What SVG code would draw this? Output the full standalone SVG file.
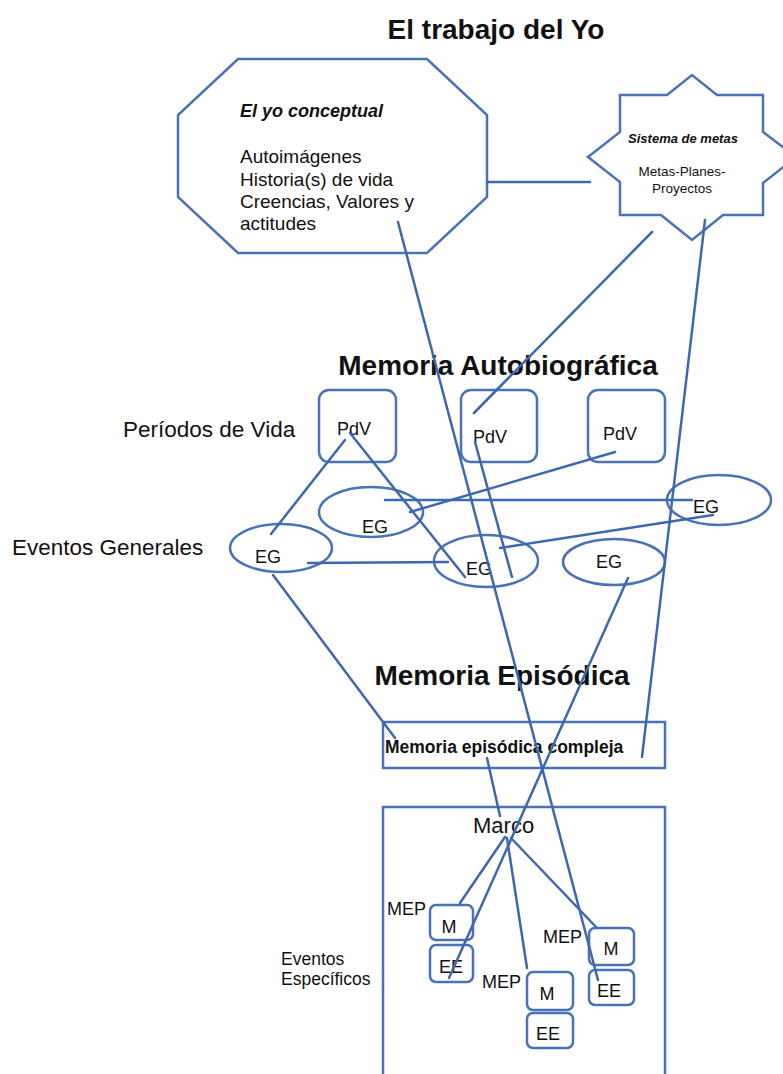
<svg xmlns="http://www.w3.org/2000/svg" width="783" height="1074" viewBox="0 0 783 1074">
<style>
text{font-family:"Liberation Sans",Arial,sans-serif;fill:#111}
.h{font-weight:bold;font-size:28px;text-anchor:middle}
.shape{fill:#fff;stroke:#4a72b8;stroke-width:2.5}
.box{fill:none;stroke:#4a72b8;stroke-width:2.5}
.lbl{font-size:22.5px}
.n{font-size:18px}
.c{text-anchor:middle}
#connectors line{stroke:#3d68b0;stroke-width:2.5;stroke-linecap:round}
</style>
<rect width="783" height="1074" fill="#fff"/>
<text class="h" x="496" y="39">El trabajo del Yo</text>
<text class="h" x="498" y="375">Memoria Autobiográfica</text>
<text class="h" x="502" y="685">Memoria Episódica</text>
<text class="lbl" x="123" y="437">Períodos de Vida</text>
<text class="lbl" x="12" y="555">Eventos Generales</text>
<text class="n" x="281" y="965" style="font-size:17.5px">Eventos</text>
<text class="n" x="281" y="985" style="font-size:17.5px">Específicos</text>

<g id="yo-conceptual">
<polygon class="shape" points="238,59 427,59 487,115 487,197 427,253 238,253 178,197 178,115"/>
<text x="240" y="117" style="font-size:18px;font-weight:bold;font-style:italic">El yo conceptual</text>
<text x="240" y="163" style="font-size:19px">Autoimágenes</text>
<text x="240" y="186" style="font-size:19px">Historia(s) de vida</text>
<text x="240" y="208" style="font-size:19px">Creencias, Valores y</text>
<text x="240" y="230" style="font-size:19px">actitudes</text>
</g>
<g id="sistema-metas">
<polygon class="shape" points="620,95 667,95 692,75 717,95 763,95 763,132 796,157 763,183 763,215 723,215 692,240 661,215 620,215 620,182 588,157 620,132"/>
<text x="683" y="143" class="c" style="font-size:13px;font-weight:bold;font-style:italic">Sistema de metas</text>
<text x="682" y="176" class="c" style="font-size:13.5px">Metas-Planes-</text>
<text x="682" y="193" class="c" style="font-size:13.5px">Proyectos</text>
</g>

<g id="pdv1"><rect class="box" x="319" y="390" width="77" height="72" rx="10"/><text class="n" x="337" y="435">PdV</text></g>
<g id="pdv2"><rect class="box" x="461" y="390" width="76" height="72" rx="10"/><text class="n" x="473" y="443">PdV</text></g>
<g id="pdv3"><rect class="box" x="588" y="390" width="77" height="72" rx="10"/><text class="n" x="603" y="440">PdV</text></g>

<g id="eg-left"><ellipse class="box" cx="281" cy="548" rx="51" ry="24"/><text class="n" x="255" y="563">EG</text></g>
<g id="eg-upper"><ellipse class="box" cx="371" cy="512" rx="52" ry="25"/><text class="n" x="362" y="533">EG</text></g>
<g id="eg-center"><ellipse class="box" cx="486" cy="561" rx="52" ry="26"/><text class="n" x="466" y="575">EG</text></g>
<g id="eg-right-low"><ellipse class="box" cx="614" cy="562" rx="51" ry="23"/><text class="n" x="596" y="568">EG</text></g>
<g id="eg-right-top"><ellipse class="box" cx="719" cy="500" rx="52" ry="25"/><text class="n" x="693" y="513">EG</text></g>

<g id="mem-compleja"><rect class="box" x="383" y="722" width="282" height="46"/><text x="385" y="753" style="font-size:17.5px;font-weight:bold">Memoria episódica compleja</text></g>
<g id="marco"><rect class="box" x="383" y="807" width="282" height="280"/><text x="473" y="833" style="font-size:22px">Marco</text></g>

<g id="mep1">
<text class="n" x="387" y="915">MEP</text>
<rect class="box" x="430" y="905" width="43" height="35" rx="6"/><text class="n c" x="449" y="933">M</text>
<rect class="box" x="430" y="945" width="43" height="37" rx="6"/><text class="n c" x="451" y="973">EE</text>
</g>
<g id="mep2">
<text class="n" x="482" y="988">MEP</text>
<rect class="box" x="527" y="972" width="46" height="38" rx="6"/><text class="n c" x="547" y="1000">M</text>
<rect class="box" x="527" y="1013" width="46" height="35" rx="6"/><text class="n c" x="548" y="1040">EE</text>
</g>
<g id="mep3">
<text class="n" x="543" y="943">MEP</text>
<rect class="box" x="589" y="928" width="45" height="37" rx="6"/><text class="n c" x="611" y="955">M</text>
<rect class="box" x="589" y="970" width="45" height="35" rx="6"/><text class="n c" x="609" y="997">EE</text>
</g>

<g id="connectors">
<line x1="487" y1="182" x2="590" y2="182"/>
<line x1="398" y1="222" x2="598" y2="980"/>
<line x1="652" y1="232" x2="474" y2="413"/>
<line x1="705" y1="220" x2="642" y2="757"/>
<line x1="345" y1="440" x2="271" y2="534"/>
<line x1="350" y1="433" x2="465" y2="577"/>
<line x1="475" y1="442" x2="512" y2="577"/>
<line x1="615" y1="452" x2="410" y2="512"/>
<line x1="385" y1="500" x2="692" y2="500"/>
<line x1="713" y1="515" x2="500" y2="548"/>
<line x1="308" y1="563" x2="448" y2="562"/>
<line x1="273" y1="575" x2="395" y2="738"/>
<line x1="628" y1="578" x2="449" y2="978"/>
<line x1="487" y1="758" x2="500" y2="816"/>
<line x1="505" y1="837" x2="460" y2="903"/>
<line x1="507" y1="838" x2="527" y2="968"/>
<line x1="511" y1="838" x2="597" y2="928"/>
</g>
</svg>
